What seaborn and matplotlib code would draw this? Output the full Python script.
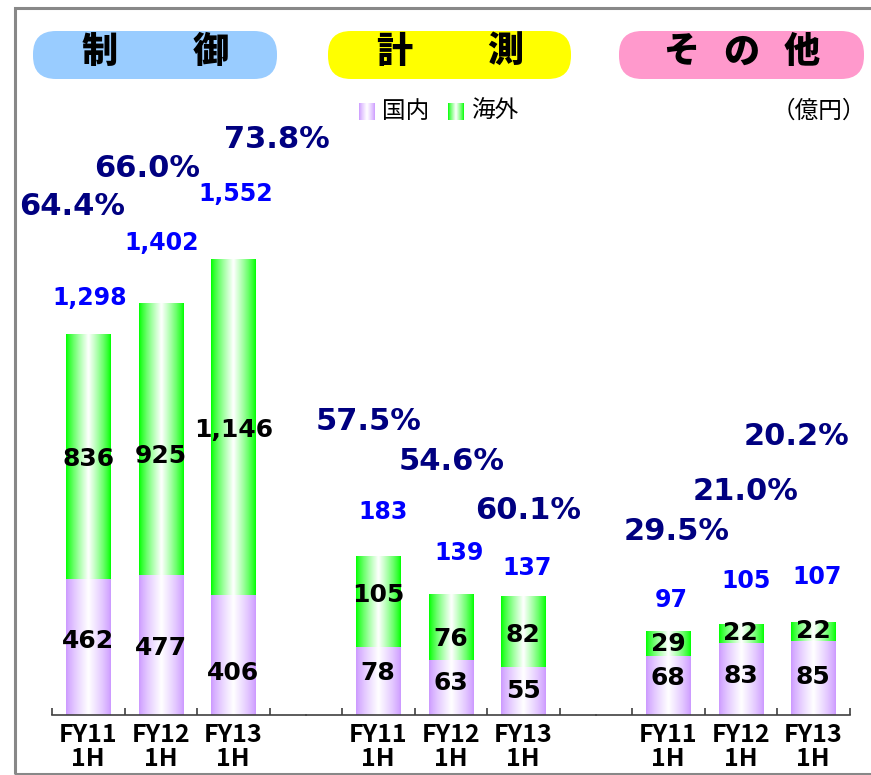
import numpy as np
import pandas as pd
import seaborn as sns
import matplotlib.pyplot as plt
from matplotlib.colors import to_rgb
from matplotlib.patches import FancyBboxPatch, Rectangle
from matplotlib.transforms import IdentityTransform

# data (億円)
groups = ['制御', '計測', 'その他']
periods = ['FY11\n1H', 'FY12\n1H', 'FY13\n1H']
domestic = [[462, 477, 406], [78, 63, 55], [68, 83, 85]]
overseas = [[836, 925, 1146], [105, 76, 82], [29, 22, 22]]
totals = [[1298, 1402, 1552], [183, 139, 137], [97, 105, 107]]
overseas_ratio = [[64.4, 66.0, 73.8], [57.5, 54.6, 60.1], [29.5, 21.0, 20.2]]

pill_colors = ['#99CCFF', '#FFFF00', '#FF99CC']
c_dom = '#CC99FF'
c_ovs = '#00FF00'

# label offsets in pixels (hand placed in the original)
total_dy = [[36, 61, 66], [45, 42, 28], [31, 43, 45]]
total_dx = [[1, 1, 2], [5, 8, 4], [3, 5, 4]]
pct_dy = [[128, 135, 120], [135, 133, 86], [100, 133, 186]]
pct_dx = [[-16, -14, 44], [-10, 1, 5], [8, 5, -17]]
dom_dy = [[6, -3, -18], [8, 5, 0], [8, 3, 1]]
ovs_dy = [[-2, -17, -2], [7, -11, -3], [0, 1, 1]]

sns.set_theme(style='white')
plt.rcParams['font.family'] = ['DejaVu Sans', 'Noto Sans CJK JP']

W, H = 871, 775
fig = plt.figure(figsize=(W / 100, H / 100), dpi=100)
px = IdentityTransform()

slot = 72.5
base, top = 715, 100
scales = [3.41, 1.155, 1.155]
xspans = [(-0.5, 3.0), (-1.0, 3.0), (-1.0, 2.5)]


def gradient(color, n=80):
    t = np.linspace(0, 1, n)
    w = np.clip(1 - np.abs(t - 0.5) / 0.5, 0, 1) ** 0.8
    rgb = np.array(to_rgb(color))
    img = rgb[None, :] * (1 - w[:, None]) + w[:, None]
    return img[None, :, :]


left = 52
for g in range(3):
    x0, x1 = xspans[g]
    wpx = (x1 - x0) * slot
    ax = fig.add_axes([left / W, (H - base) / H, wpx / W, (base - top) / H])
    left += wpx
    df = pd.DataFrame({'period': periods, 'domestic': domestic[g],
                       'overseas': overseas[g], 'total': totals[g]})
    sns.barplot(data=df, x='period', y='total', color=c_ovs, width=0.61,
                saturation=1, errorbar=None, ax=ax)
    sns.barplot(data=df, x='period', y='domestic', color=c_dom, width=0.61,
                saturation=1, errorbar=None, ax=ax)
    ylim = (0, (base - top) * scales[g])
    for i, p in enumerate(ax.patches):
        col = c_ovs if i < 3 else c_dom
        bx, by = p.get_x(), p.get_y()
        ax.imshow(gradient(col), extent=[bx, bx + p.get_width(), by, by + p.get_height()],
                  aspect='auto', zorder=1 if i < 3 else 2, clip_path=p, interpolation='bilinear')
        p.set_facecolor('none')
        p.set_edgecolor('none')
    ax.set_xlim(x0, x1)
    ax.set_ylim(*ylim)

    for i in range(3):
        d, o, t = domestic[g][i], overseas[g][i], totals[g][i]
        ax.annotate(f'{d:,}', (i, d / 2), xytext=(0, dom_dy[g][i]), textcoords='offset pixels',
                    ha='center', va='center', fontsize=18, fontweight='bold',
                    color='black', zorder=5)
        ax.annotate(f'{o:,}', (i, d + o / 2), xytext=(0, ovs_dy[g][i]), textcoords='offset pixels',
                    ha='center', va='center', fontsize=18, fontweight='bold',
                    color='black', zorder=5)
        ax.annotate(f'{t:,}', (i, t), xytext=(total_dx[g][i], total_dy[g][i]),
                    textcoords='offset pixels', ha='center', va='center',
                    fontsize=17, fontweight='bold', color='#0000FF')
        ax.annotate(f'{overseas_ratio[g][i]:.1f}%', (i, t), xytext=(pct_dx[g][i], pct_dy[g][i]),
                    textcoords='offset pixels', ha='center', va='center',
                    fontsize=22, fontweight='bold', color='#000080')

    for s in ['top', 'right', 'left']:
        ax.spines[s].set_visible(False)
    ax.spines['bottom'].set_color('#404040')
    ax.spines['bottom'].set_linewidth(1.2)
    ax.set_yticks([])
    ax.set_xticks(range(3))
    ax.set_xticklabels(periods, fontfamily='Noto Sans CJK JP', fontweight='bold',
                       fontsize=18, linespacing=1.0)
    bounds = [b for b in np.arange(-0.5, 3.0, 1.0) if x0 <= b <= x1]
    ax.set_xticks(bounds, minor=True)
    ax.tick_params(axis='x', which='major', length=0, pad=6, colors='black')
    ax.tick_params(axis='x', which='minor', bottom=True, direction='in', length=5,
                   width=1.2, color='#404040')
    ax.set_xlabel('')
    ax.set_ylabel('')
    ax.patch.set_alpha(0)

# header pills
pills = [(33, 277), (328, 571), (619, 864)]
for (a, b), col, name in zip(pills, pill_colors, groups):
    fig.add_artist(FancyBboxPatch((a, H - 79), b - a, 48,
                                  boxstyle='round,pad=0,rounding_size=23',
                                  transform=px, facecolor=col, edgecolor='none'))
    step = 111 if len(name) == 2 else 60
    cx = (a + b) / 2
    for k, ch in enumerate(name):
        xx = cx + (k - (len(name) - 1) / 2) * step
        fig.text(xx, H - 52, ch, transform=px, ha='center', va='center',
                 fontsize=26, fontweight='heavy', fontfamily='Noto Sans CJK JP', color='black')

# legend
for x, col, lab in [(359, c_dom, '国内'), (448, c_ovs, '海外')]:
    lax = fig.add_axes([x / W, (H - 120) / H, 16 / W, 17 / H])
    lax.imshow(gradient(col), aspect='auto', interpolation='bilinear')
    lax.axis('off')
    fig.text(x + 23, H - 111, lab, transform=px, ha='left', va='center',
             fontsize=17, fontfamily='Noto Sans CJK JP', color='black')
fig.text(866, H - 111, '（億円）', transform=px, ha='right', va='center',
         fontsize=17, fontfamily='Noto Sans CJK JP', color='black')

# frame
fig.add_artist(Rectangle((15, 1.5), 900, 766, transform=px, fill=False,
                         edgecolor='#888888', linewidth=2.2))

fig.savefig('out.png', dpi=100)
